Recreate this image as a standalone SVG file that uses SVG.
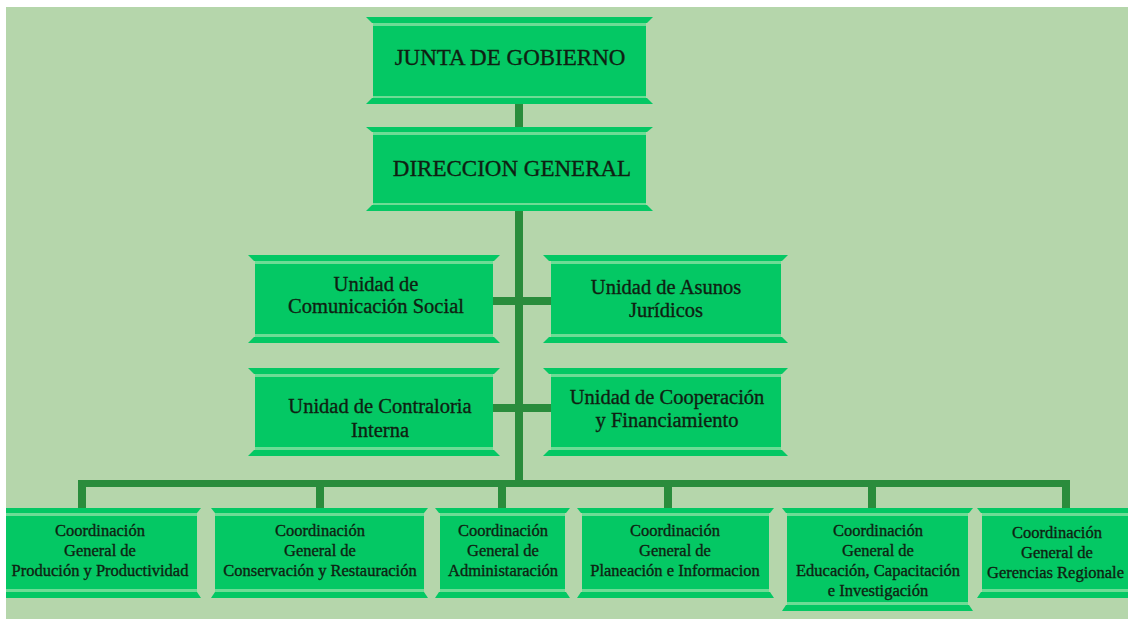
<svg xmlns="http://www.w3.org/2000/svg" width="1128" height="622" viewBox="0 0 1128 622">
<style>
.main{fill:#04c864}
.strip{fill:#6ddc95}
.bar{fill:#04c864}
.con{fill:#2a8c3c}
text{font-family:"Liberation Serif","Times New Roman",serif;fill:#0f1f12;stroke:#0f1f12;stroke-width:0.35;text-anchor:middle}
.t1{font-size:23px}
.t2{font-size:20.5px}
.t3{font-size:16.5px}
</style>
<rect x="0" y="0" width="1128" height="622" fill="#ffffff"/>
<rect x="6" y="7" width="1122" height="612" fill="#b5d6ab"/>
<g id="connectors">
<rect class="con" x="515" y="104" width="8" height="24"/>
<rect class="con" x="515" y="211" width="8" height="276"/>
<rect class="con" x="492" y="297" width="60" height="8"/>
<rect class="con" x="492" y="404" width="60" height="8"/>
<rect class="con" x="78" y="480" width="992" height="7"/>
<rect class="con" x="78" y="480" width="8" height="29"/>
<rect class="con" x="316" y="480" width="8" height="29"/>
<rect class="con" x="498" y="480" width="8" height="29"/>
<rect class="con" x="664" y="480" width="8" height="29"/>
<rect class="con" x="868" y="480" width="8" height="29"/>
<rect class="con" x="1062" y="480" width="8" height="29"/>
</g>
<g id="junta">
<polygon class="bar" points="366,17 653,17 647,23 372,23"/>
<rect class="strip" x="373" y="23" width="273" height="3"/>
<rect class="main" x="373" y="26" width="273" height="70"/>
<rect class="strip" x="373" y="96" width="273" height="2"/>
<polygon class="bar" points="372,98 647,98 653,104 366,104"/>
<text class="t1" x="510" y="65">JUNTA DE GOBIERNO</text>
</g>
<g id="direccion">
<polygon class="bar" points="366,127 653,127 647,132 372,132"/>
<rect class="strip" x="373" y="132" width="273" height="3"/>
<rect class="main" x="373" y="135" width="273" height="68"/>
<rect class="strip" x="373" y="203" width="273" height="2"/>
<polygon class="bar" points="372,205 647,205 653,211 366,211"/>
<text class="t1" x="512" y="176">DIRECCION GENERAL</text>
</g>
<g id="comunicacion">
<polygon class="bar" points="248,255 500,255 494,261 254,261"/>
<rect class="strip" x="255" y="261" width="238" height="3"/>
<rect class="main" x="255" y="264" width="238" height="70"/>
<rect class="strip" x="255" y="334" width="238" height="3"/>
<polygon class="bar" points="254,337 494,337 500,343 248,343"/>
<text class="t2" x="376" y="291">Unidad de</text>
<text class="t2" x="376" y="313">Comunicación Social</text>
</g>
<g id="asuntos">
<polygon class="bar" points="543,255 788,255 782,261 549,261"/>
<rect class="strip" x="551" y="261" width="230" height="3"/>
<rect class="main" x="551" y="264" width="230" height="70"/>
<rect class="strip" x="551" y="334" width="230" height="3"/>
<polygon class="bar" points="549,337 782,337 788,343 543,343"/>
<text class="t2" x="666" y="294">Unidad de Asunos</text>
<text class="t2" x="666" y="317">Jurídicos</text>
</g>
<g id="contraloria">
<polygon class="bar" points="248,368 500,368 494,374 254,374"/>
<rect class="strip" x="255" y="374" width="238" height="3"/>
<rect class="main" x="255" y="377" width="238" height="70"/>
<rect class="strip" x="255" y="447" width="238" height="3"/>
<polygon class="bar" points="254,450 494,450 500,456 248,456"/>
<text class="t2" x="380" y="413">Unidad de Contraloria</text>
<text class="t2" x="380" y="437">Interna</text>
</g>
<g id="cooperacion">
<polygon class="bar" points="543,368 788,368 782,374 549,374"/>
<rect class="strip" x="551" y="374" width="230" height="3"/>
<rect class="main" x="551" y="377" width="230" height="70"/>
<rect class="strip" x="551" y="447" width="230" height="3"/>
<polygon class="bar" points="549,450 782,450 788,456 543,456"/>
<text class="t2" x="667" y="404">Unidad de Cooperación</text>
<text class="t2" x="667" y="427">y Financiamiento</text>
</g>
<g id="coord1">
<polygon class="bar" points="6,508 201,508 197,513 6,513"/>
<rect class="strip" x="6" y="513" width="191" height="3"/>
<rect class="main" x="6" y="516" width="191" height="73"/>
<rect class="strip" x="6" y="589" width="191" height="3"/>
<polygon class="bar" points="6,592 197,592 201,598 6,598"/>
<text class="t3" x="100" y="536">Coordinación</text>
<text class="t3" x="100" y="556">General de</text>
<text class="t3" x="100" y="576">Produción y Productividad</text>
</g>
<g id="coord2">
<polygon class="bar" points="211,508 428,508 424,513 215,513"/>
<rect class="strip" x="215" y="513" width="209" height="3"/>
<rect class="main" x="215" y="516" width="209" height="73"/>
<rect class="strip" x="215" y="589" width="209" height="3"/>
<polygon class="bar" points="215,592 424,592 428,598 211,598"/>
<text class="t3" x="320" y="536">Coordinación</text>
<text class="t3" x="320" y="556">General de</text>
<text class="t3" x="320" y="576">Conservación y Restauración</text>
</g>
<g id="coord3">
<polygon class="bar" points="435,508 570,508 566,513 439,513"/>
<rect class="strip" x="440" y="513" width="125" height="3"/>
<rect class="main" x="440" y="516" width="125" height="73"/>
<rect class="strip" x="440" y="589" width="125" height="3"/>
<polygon class="bar" points="439,592 566,592 570,598 435,598"/>
<text class="t3" x="503" y="536">Coordinación</text>
<text class="t3" x="503" y="556">General de</text>
<text class="t3" x="503" y="576">Administaración</text>
</g>
<g id="coord4">
<polygon class="bar" points="577,508 774,508 770,513 581,513"/>
<rect class="strip" x="582" y="513" width="187" height="3"/>
<rect class="main" x="582" y="516" width="187" height="73"/>
<rect class="strip" x="582" y="589" width="187" height="3"/>
<polygon class="bar" points="581,592 770,592 774,598 577,598"/>
<text class="t3" x="675" y="536">Coordinación</text>
<text class="t3" x="675" y="556">General de</text>
<text class="t3" x="675" y="576">Planeación e Informacion</text>
</g>
<g id="coord5">
<polygon class="bar" points="782,508 973,508 969,513 786,513"/>
<rect class="strip" x="787" y="513" width="181" height="3"/>
<rect class="main" x="787" y="516" width="181" height="86"/>
<rect class="strip" x="787" y="602" width="181" height="3"/>
<polygon class="bar" points="786,605 969,605 973,611 782,611"/>
<text class="t3" x="878" y="536">Coordinación</text>
<text class="t3" x="878" y="556">General de</text>
<text class="t3" x="878" y="576">Educación, Capacitación</text>
<text class="t3" x="878" y="596">e Investigación</text>
</g>
<g id="coord6">
<polygon class="bar" points="977,508 1128,508 1128,513 981,513"/>
<rect class="strip" x="982" y="513" width="146" height="3"/>
<rect class="main" x="982" y="516" width="146" height="73"/>
<rect class="strip" x="982" y="589" width="146" height="3"/>
<polygon class="bar" points="981,592 1128,592 1128,598 977,598"/>
<text class="t3" x="1057" y="538">Coordinación</text>
<text class="t3" x="1057" y="558">General de</text>
<text class="t3" x="987" y="578" style="text-anchor:start">Gerencias Regionale</text>
</g>
</svg>
